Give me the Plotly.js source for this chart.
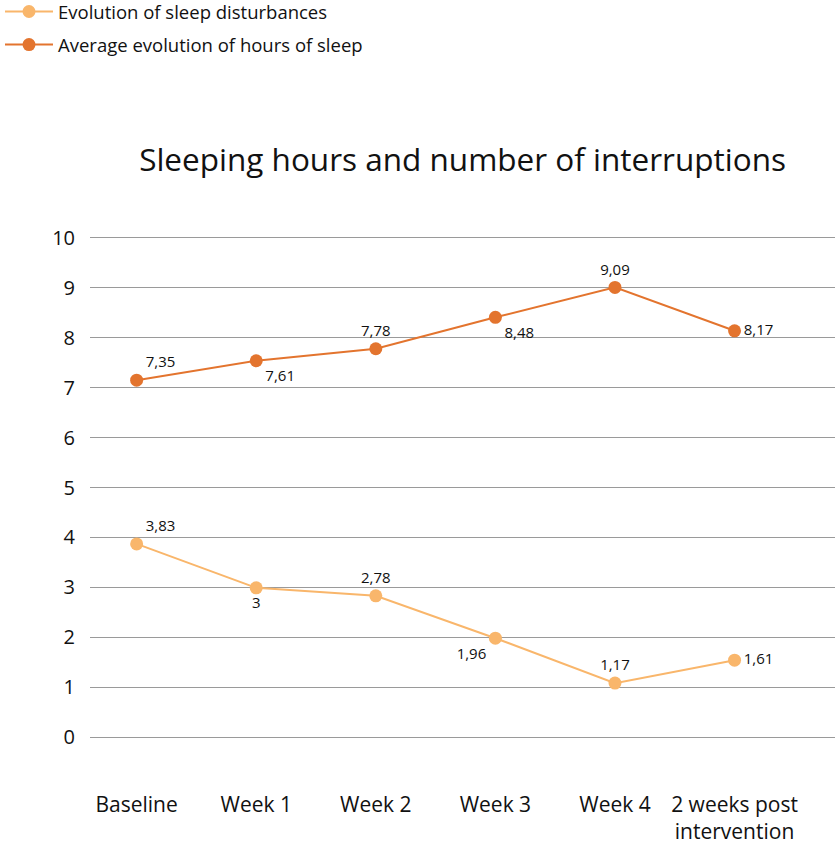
<!DOCTYPE html>
<html>
<head>
<meta charset="utf-8">
<script src="https://cdn.plot.ly/plotly-3.0.1.min.js"></script>
<style>
  html, body { margin: 0; padding: 0; background: #fff; }
  #chart { width: 835px; height: 847px; }
</style>
</head>
<body>
<div id="chart"></div>
<script>
// categories on the x axis
let periods = ['Baseline', 'Week 1', 'Week 2', 'Week 3', 'Week 4', '2 weeks post<br>intervention'];

// values as drawn in the picture, with their printed labels
let disturbances = [3.87, 2.99, 2.83, 1.98, 1.08, 1.54];
let disturbanceLabels = ['3,83', '3', '2,78', '1,96', '1,17', '1,61'];

let sleepHours = [7.15, 7.54, 7.78, 8.41, 9.01, 8.14];
let sleepLabels = ['7,35', '7,61', '7,78', '8,48', '9,09', '8,17'];

let yTicks = [0, 1, 2, 3, 4, 5, 6, 7, 8, 9, 10];

let fontFamily = '"Open Sans", "Noto Sans", sans-serif';

// light orange series
let trace1 = {
  x: periods,
  y: disturbances,
  text: disturbanceLabels,
  name: 'Evolution of sleep disturbances',
  legendgroup: 'a',
  type: 'scatter',
  mode: 'lines+markers+text',
  textposition: ['top right', 'bottom center', 'top center', 'bottom left', 'top center', 'middle right'],
  textfont: {size: 15, color: '#111', family: fontFamily},
  line: {color: '#F9B66B', width: 2},
  marker: {color: '#F9B66B', size: 13},
  cliponaxis: false,
  hoverinfo: 'x+y'
};

// dark orange series
let trace2 = {
  x: periods,
  y: sleepHours,
  text: sleepLabels,
  name: 'Average evolution of hours of sleep',
  legendgroup: 'b',
  type: 'scatter',
  mode: 'lines+markers+text',
  textposition: ['top right', 'bottom right', 'top center', 'bottom right', 'top center', 'middle right'],
  textfont: {size: 15, color: '#111', family: fontFamily},
  line: {color: '#E3742E', width: 2},
  marker: {color: '#E3742E', size: 13},
  cliponaxis: false,
  hoverinfo: 'x+y'
};

let layout = {
  width: 835,
  height: 847,
  margin: {l: 90, r: 0, t: 235, b: 107, autoexpand: false},
  paper_bgcolor: '#fff',
  plot_bgcolor: '#fff',
  font: {family: fontFamily, color: '#111'},
  title: {
    text: 'Sleeping hours and number of interruptions',
    font: {size: 31.5, color: '#111', family: fontFamily},
    x: 0.554, xanchor: 'center',
    y: 1 - 160 / 847, yanchor: 'middle'
  },
  showlegend: true,
  legend: {
    xref: 'container', yref: 'container',
    x: 0, y: 1 - 28.5 / 847, xanchor: 'left', yanchor: 'middle',
    font: {size: 18.5, color: '#111', family: fontFamily},
    traceorder: 'grouped',
    tracegroupgap: 6,
    itemwidth: 48,
    bgcolor: 'rgba(0,0,0,0)'
  },
  xaxis: {
    type: 'category',
    range: [-0.39, 5.84],
    showgrid: false,
    zeroline: false,
    showline: false,
    ticks: '',
    tickangle: 0,
    tickfont: {size: 21, color: '#111', family: fontFamily},
    ticklabelstandoff: 50
  },
  yaxis: {
    range: [-0.06, 10.06],
    tickvals: yTicks,
    ticktext: yTicks.map(String),
    showgrid: true,
    gridcolor: '#9a9a9a',
    gridwidth: 1,
    zeroline: false,
    showline: false,
    ticks: '',
    tickfont: {size: 20, color: '#111', family: fontFamily},
    ticklabelstandoff: 14
  }
};

Plotly.newPlot('chart', [trace1, trace2], layout, {displayModeBar: false});
</script>
</body>
</html>
